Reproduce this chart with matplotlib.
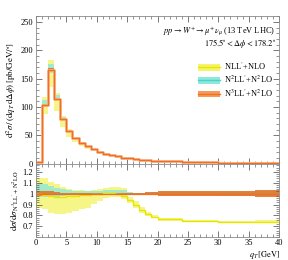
import numpy as np
import matplotlib
matplotlib.use('Agg')
import matplotlib.pyplot as plt
from matplotlib.patches import Patch
from matplotlib.lines import Line2D
from matplotlib.ticker import MultipleLocator

plt.rcParams['font.family'] = ['Liberation Serif', 'DejaVu Serif']
plt.rcParams['mathtext.fontset'] = 'stix'

# bin edges (GeV)
edges = np.array([0, 1, 2, 3, 4, 5, 6, 7, 8, 9, 10, 11, 12, 13, 14, 15, 16, 17, 18, 19, 20, 24, 30, 36, 40])

# N3LL'+N2LO central (pb/GeV/deg)
n3ll = np.array([3, 103, 165, 115, 79, 58, 46, 37.5, 31, 26, 21.5, 18, 15, 13, 11,
                 9.5, 8.3, 7.2, 6.3, 5.5, 4.3, 2.9, 1.9, 1.4])

# ratios to N3LL'+N2LO
n3_lo = np.array([0.98, 0.982, 0.985, 0.988, 0.99, 0.995, 0.995, 0.995, 0.995, 0.995, 0.995, 0.995, 0.995, 0.995, 0.995,
                  0.993, 0.99, 0.99, 0.988, 0.985, 0.982, 0.98, 0.975, 0.972])
n3_hi = np.array([1.025, 1.022, 1.02, 1.015, 1.01, 1.006, 1.005, 1.005, 1.005, 1.005, 1.005, 1.005, 1.005, 1.005, 1.005,
                  1.007, 1.01, 1.01, 1.012, 1.015, 1.02, 1.022, 1.028, 1.032])

n2_lo = np.array([0.965, 0.965, 0.968, 0.972, 0.978, 0.985, 0.99, 0.99, 0.992, 0.995, 0.998, 1.0, 1.0, 1.0, 0.998,
                  0.995, 0.99, 0.99, 0.988, 0.985, 0.985, 0.985, 0.982, 0.98])
n2_hi = np.array([1.09, 1.085, 1.07, 1.055, 1.042, 1.032, 1.026, 1.024, 1.022, 1.022, 1.026, 1.03, 1.035, 1.035, 1.03,
                  1.015, 1.01, 1.01, 1.01, 1.012, 1.012, 1.015, 1.018, 1.02])

nll_c = np.array([1.0, 0.985, 0.975, 0.97, 0.97, 0.975, 0.98, 0.985, 0.99, 0.995, 1.0, 1.005, 1.01, 1.0, 0.98,
                  0.94, 0.9, 0.85, 0.81, 0.785, 0.763, 0.748, 0.738, 0.742])
nll_lo = np.array([0.87, 0.855, 0.825, 0.816, 0.816, 0.825, 0.84, 0.855, 0.87, 0.905, 0.934, 0.957, 0.97, 0.97, 0.955,
                   0.915, 0.87, 0.825, 0.79, 0.772, 0.753, 0.738, 0.728, 0.73])
nll_hi = np.array([1.14, 1.14, 1.11, 1.085, 1.065, 1.045, 1.035, 1.03, 1.025, 1.03, 1.04, 1.05, 1.06, 1.06, 1.05,
                   0.965, 0.93, 0.875, 0.83, 0.8, 0.773, 0.758, 0.748, 0.754])

c_yel_band = '#f4f36a'
c_yel_line = '#e6e600'
c_cyan_band = '#8ee8dc'
c_cyan_line = '#4fd0c8'
c_or_band = '#e0762c'
c_or_line = '#f07020'


def st(v):
    return np.append(v, v[-1])


fig = plt.figure(figsize=(2.88, 2.60), dpi=100)
ax = fig.add_axes([0.125, 0.370, 0.844, 0.567])
axr = fig.add_axes([0.125, 0.088, 0.844, 0.282], sharex=ax)

# main panel
ax.fill_between(edges, st(n3ll * nll_lo), st(n3ll * nll_hi), step='post', color=c_yel_band, alpha=0.8, lw=0)
ax.fill_between(edges, st(n3ll * n2_lo), st(n3ll * n2_hi), step='post', color=c_cyan_band, alpha=0.8, lw=0)
ax.fill_between(edges, st(n3ll * n3_lo), st(n3ll * n3_hi), step='post', color=c_or_band, alpha=0.9, lw=0)
ax.step(edges, st(n3ll), where='post', color='#f8b088', lw=2.0)
ax.step(edges, st(n3ll), where='post', color=c_or_line, lw=0.9)

ax.set_xlim(0, 40)
ax.set_ylim(0, 260)
ax.set_ylabel(r"$\mathrm{d}^2\sigma\,/\,(\mathrm{d}q_T\,\mathrm{d}\Delta\phi)\,[\mathrm{pb/GeV/}^{\circ}]$",
              fontsize=6.5, labelpad=2)
ax.yaxis.set_major_locator(MultipleLocator(50))
ax.yaxis.set_minor_locator(MultipleLocator(10))

ax.text(0.985, 0.90, r"$pp \rightarrow W^{+} \rightarrow \mu^{+}\nu_{\mu}$ (13 TeV LHC)",
        transform=ax.transAxes, ha='right', va='center', fontsize=6)
ax.text(0.985, 0.815, r"$175.5^{\circ} < \Delta\phi < 178.2^{\circ}$",
        transform=ax.transAxes, ha='right', va='center', fontsize=6)

handles = [(Patch(facecolor=c_yel_band, edgecolor='none'), Line2D([], [], color=c_yel_line, lw=1)),
           (Patch(facecolor=c_cyan_band, edgecolor='none'), Line2D([], [], color=c_cyan_line, lw=1)),
           (Patch(facecolor='#f59a5a', edgecolor='none'), Line2D([], [], color=c_or_line, lw=1))]
labels = ["NLL$'$+NLO", "N$^2$LL$'$+N$^2$LO", "N$^3$LL$'$+N$^2$LO"]
ax.legend(handles, labels, loc='upper right', bbox_to_anchor=(1.0, 0.74), frameon=False,
          fontsize=6, handlelength=2.6, handleheight=0.9, labelspacing=0.25, handletextpad=0.5,
          borderpad=0.2)

# ratio panel
axr.fill_between(edges, st(nll_lo), st(nll_hi), step='post', color=c_yel_band, alpha=0.8, lw=0)
axr.fill_between(edges, st(n2_lo), st(n2_hi), step='post', color=c_cyan_band, alpha=0.8, lw=0)
axr.fill_between(edges, st(n3_lo), st(n3_hi), step='post', color=c_or_band, alpha=0.9, lw=0)
axr.step(edges, st(nll_c), where='post', color=c_yel_line, lw=1.0)
axr.step(edges, st(np.ones_like(n3ll)), where='post', color=c_or_line, lw=0.9)

axr.set_ylim(0.6, 1.275)
axr.yaxis.set_minor_locator(MultipleLocator(0.02))
axr.set_yticks([0.7, 0.8, 0.9, 1.0, 1.1, 1.2])
axr.set_yticklabels(['0.7', '0.8', '0.9', '1', '1.1', '1.2'])
axr.xaxis.set_major_locator(MultipleLocator(5))
axr.xaxis.set_minor_locator(MultipleLocator(1))
axr.set_ylabel(r"$\mathrm{d}\sigma/\mathrm{d}\sigma_{\mathrm{N^3LL'+N^2LO}}$", fontsize=6.5, labelpad=2)
axr.set_xlabel(r"$q_T\,[\mathrm{GeV}]$", fontsize=6, labelpad=1, ha='right', va='top')
axr.xaxis.set_label_coords(1.005, -0.16)

for a in (ax, axr):
    a.tick_params(which='both', direction='in', top=True, right=True, labelsize=6, colors='#444444',
                  labelcolor='black', pad=2)
    a.tick_params(which='major', length=4, width=0.5)
    a.tick_params(which='minor', length=2, width=0.4)
    for s in a.spines.values():
        s.set_color('#888888')
        s.set_linewidth(0.6)
ax.tick_params(labelbottom=False)
axr.tick_params(axis='x', pad=1.5)

fig.savefig('out.png', dpi=100)
